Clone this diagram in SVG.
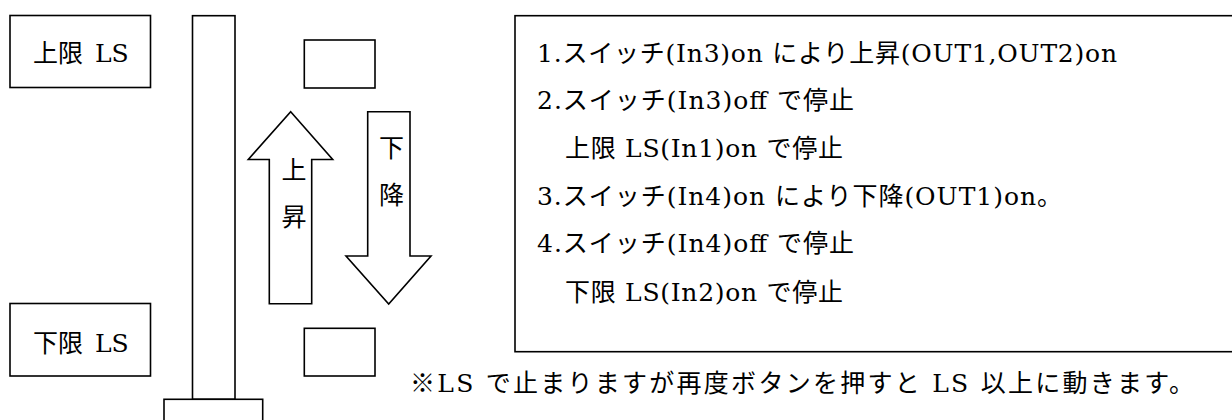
<svg xmlns="http://www.w3.org/2000/svg" width="1232" height="420" viewBox="0 0 1232 420">
<style>
.box{fill:#fff;stroke:#000;stroke-width:1.6}
.arrow{fill:#fff;stroke:#000;stroke-width:1.6;stroke-linejoin:miter}
.t{font-family:'DejaVu Serif','Noto Sans CJK JP',serif;font-size:25px;fill:#000}
.m{text-anchor:middle}
</style>
<rect width="1232" height="420" fill="#fff"/>
<g id="upper-ls">
<rect class="box" x="10" y="15.5" width="140.5" height="72"/>
<text class="t" x="33" y="62">上限 <tspan x="95">LS</tspan></text>
</g>
<g id="lower-ls">
<rect class="box" x="10" y="303.5" width="140.5" height="72.5"/>
<text class="t" x="33" y="351.5">下限 <tspan x="95">LS</tspan></text>
</g>
<g id="rail">
<rect class="box" x="192.5" y="15.7" width="42.5" height="383.6"/>
<rect class="box" x="164" y="399.3" width="98.7" height="40"/>
</g>
<g id="upper-sensor"><rect class="box" x="304.3" y="40" width="70.7" height="48"/></g>
<g id="lower-sensor"><rect class="box" x="304.3" y="328.3" width="70.7" height="47.7"/></g>
<g id="connectors">
<g id="arrow-up">
<polygon class="arrow" points="290.7,111.7 332.7,159.5 311.7,159.5 311.7,303.7 269.3,303.7 269.3,159.5 248.3,159.5"/>
<text class="t m" x="294" y="178.5">上</text>
<text class="t m" x="294" y="225.5">昇</text>
</g>
<g id="arrow-down">
<polygon class="arrow" points="367.7,111.7 410,111.7 410,256 431,256 388.7,304 346,256 367.7,256"/>
<text class="t m" x="391.5" y="156.5">下</text>
<text class="t m" x="391.5" y="203.5">降</text>
</g>
</g>
<g id="instructions">
<rect class="box" x="515" y="15.7" width="730" height="336"/>
<text class="t" x="537" y="61.5" textLength="580" lengthAdjust="spacing">1.スイッチ(In3)on により上昇(OUT1,OUT2)on</text>
<text class="t" x="537" y="109" textLength="317" lengthAdjust="spacing">2.スイッチ(In3)off で停止</text>
<text class="t" x="565" y="156.5" textLength="278" lengthAdjust="spacing">上限 LS(In1)on で停止</text>
<text class="t" x="537" y="204.5" textLength="525" lengthAdjust="spacing">3.スイッチ(In4)on により下降(OUT1)on。</text>
<text class="t" x="537" y="252" textLength="317" lengthAdjust="spacing">4.スイッチ(In4)off で停止</text>
<text class="t" x="565" y="301" textLength="278" lengthAdjust="spacing">下限 LS(In2)on で停止</text>
</g>
<g id="note">
<text class="t" x="410" y="392" textLength="784" lengthAdjust="spacing">※LS で止まりますが再度ボタンを押すと LS 以上に動きます。</text>
</g>
</svg>
